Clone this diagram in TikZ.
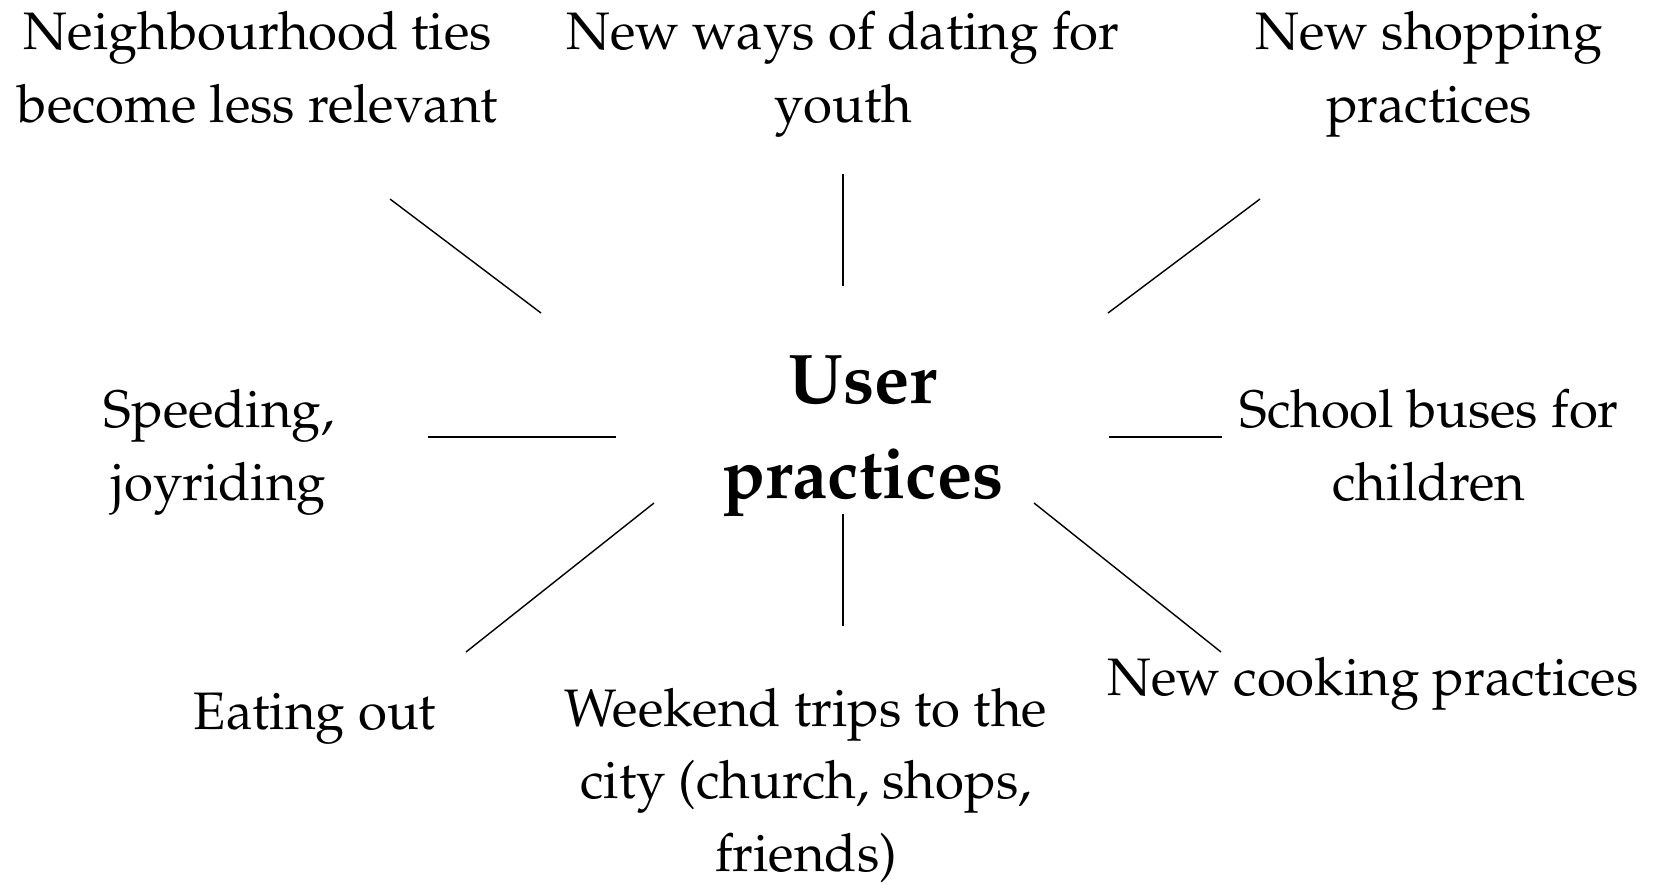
\documentclass[tikz,border=0pt]{standalone}
\IfFileExists{mathpazo.sty}
  {\usepackage[T1]{fontenc}\usepackage{mathpazo}}
  {\usepackage{fontspec}\setmainfont{Liberation Serif}}

\begin{document}
\begin{tikzpicture}[x=0.01cm, y=-0.01cm,
    leaf/.style={align=center, inner sep=0pt, anchor=base,
                 font=\fontsize{15}{20.5}\selectfont},
    hubtext/.style={align=center, inner sep=0pt, anchor=base,
                    font=\fontsize{20}{27}\selectfont\bfseries},
    spoke/.style={draw=black, line width=0.4pt}]
    \useasboundingbox (0,0) rectangle (1663,884);

    % Centre (anchored on the last baseline)
    \node[hubtext] (hub) at (863,498) {User\\practices};

    % Top row
    \node[leaf] (ties) at (258,122) {Neighbourhood ties\\become less relevant};
    \node[leaf] (dating) at (843,122) {New ways of dating for\\youth};
    \node[leaf] (shopping) at (1429,122) {New shopping\\practices};

    % Middle row
    \node[leaf] (speeding) at (219,500) {Speeding,\\joyriding};
    \node[leaf] (buses) at (1429,500) {School buses for\\children};

    % Bottom row
    \node[leaf] (eating) at (315,729) {Eating out};
    \node[leaf] (trips) at (806,871) {Weekend trips to the\\city (church, shops,\\friends)};
    \node[leaf] (cooking) at (1373,695) {New cooking practices};

    % Spoke ends
    \coordinate (ties-a) at (390,199);     \coordinate (ties-b) at (541,313);
    \coordinate (dating-a) at (843,174);   \coordinate (dating-b) at (843,286);
    \coordinate (shopping-a) at (1260,199); \coordinate (shopping-b) at (1108,313);
    \coordinate (speeding-a) at (428,437); \coordinate (speeding-b) at (616,437);
    \coordinate (buses-a) at (1222,437);   \coordinate (buses-b) at (1109,437);
    \coordinate (eating-a) at (466,652);   \coordinate (eating-b) at (654,503);
    \coordinate (trips-a) at (843,626);    \coordinate (trips-b) at (843,514);
    \coordinate (cooking-a) at (1221,652); \coordinate (cooking-b) at (1034,503);

    % Spokes
    \foreach \n in {ties,dating,shopping,speeding,buses,eating,trips,cooking}
        \draw[spoke] (\n-a) -- (\n-b);
\end{tikzpicture}
\end{document}
